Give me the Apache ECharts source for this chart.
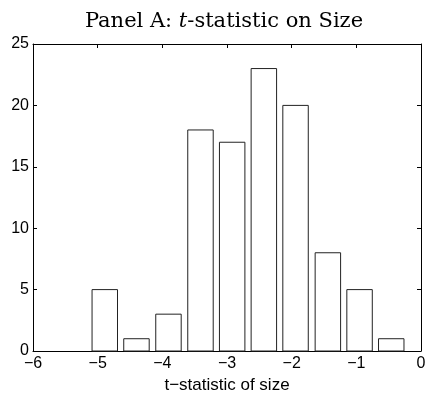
<!DOCTYPE html>
<html>
<head>
<meta charset="utf-8">
<script src="https://cdn.jsdelivr.net/npm/echarts@6/dist/echarts.min.js"></script>
<style>
  html, body { margin: 0; padding: 0; background: #fff; }
  #chart { width: 427px; height: 394px; }
</style>
</head>
<body>
<div id="chart"></div>
<script>
// Histogram of t-statistics on size
const binCenters = [-4.89, -4.40, -3.905, -3.41, -2.92, -2.43, -1.94, -1.44, -0.95, -0.46];
const counts = [5, 1, 3, 18, 17, 23, 20, 8, 5, 1];
const xTicks = [-6, -5, -4, -3, -2, -1, 0];
const yTicks = [0, 5, 10, 15, 20, 25];

const binWidth = 0.492;     // spacing between bin centres
const barFraction = 0.8;    // drawn bar width relative to the bin

const fmtNum = v => (v < 0 ? '\u2212' + Math.abs(v) : String(v));

const chart = echarts.init(document.getElementById('chart'), null, { renderer: 'canvas' });

const axisCommon = {
  type: 'value',
  axisLine: { show: true, onZero: false, lineStyle: { color: '#000', width: 1 } },
  axisTick: { show: true, inside: true, length: 4, lineStyle: { color: '#000', width: 1 } },
  splitLine: { show: false }
};

chart.setOption({
  animation: false,
  backgroundColor: '#fff',
  title: {
    text: 'Panel A: {i|t}-statistic on Size',
    left: 219,
    textAlign: 'center',
    top: 6,
    textStyle: {
      fontFamily: 'DejaVu Serif',
      fontSize: 21,
      fontWeight: 'normal',
      color: '#000',
      rich: {
        i: { fontFamily: 'DejaVu Serif', fontSize: 21, fontStyle: 'italic', color: '#000' }
      }
    }
  },
  grid: { left: 33, right: 6, top: 44, bottom: 43, containLabel: false, outerBoundsMode: 'none' },
  xAxis: [
    Object.assign({}, axisCommon, {
      min: xTicks[0], max: xTicks[xTicks.length - 1], interval: 1,
      position: 'bottom',
      name: 't\u2212statistic of size',
      nameLocation: 'middle',
      nameGap: 11,
      nameTextStyle: { fontFamily: 'Liberation Sans', fontSize: 17, color: '#000' },
      axisLabel: { fontFamily: 'Liberation Sans', fontSize: 16, color: '#000', margin: 5, formatter: fmtNum }
    }),
    Object.assign({}, axisCommon, {
      min: xTicks[0], max: xTicks[xTicks.length - 1], interval: 1,
      position: 'top',
      axisLabel: { show: false }
    })
  ],
  yAxis: [
    Object.assign({}, axisCommon, {
      min: yTicks[0], max: yTicks[yTicks.length - 1], interval: 5,
      position: 'left',
      axisLabel: { fontFamily: 'Liberation Sans', fontSize: 16, color: '#000', margin: 4, formatter: fmtNum }
    }),
    Object.assign({}, axisCommon, {
      min: yTicks[0], max: yTicks[yTicks.length - 1], interval: 5,
      position: 'right',
      axisLabel: { show: false }
    })
  ],
  series: [{
    type: 'custom',
    xAxisIndex: 0,
    yAxisIndex: 0,
    data: binCenters.map((c, i) => [c, counts[i]]),
    renderItem: function (params, api) {
      const c = api.value(0);
      const v = api.value(1);
      const half = binWidth * barFraction / 2;
      const p0 = api.coord([c - half, v]);
      const p1 = api.coord([c + half, 0]);
      return {
        type: 'rect',
        shape: { x: p0[0], y: p0[1], width: p1[0] - p0[0], height: p1[1] - p0[1] },
        style: { fill: '#fff', stroke: '#222', lineWidth: 1 }
      };
    }
  }]
});
</script>
</body>
</html>
